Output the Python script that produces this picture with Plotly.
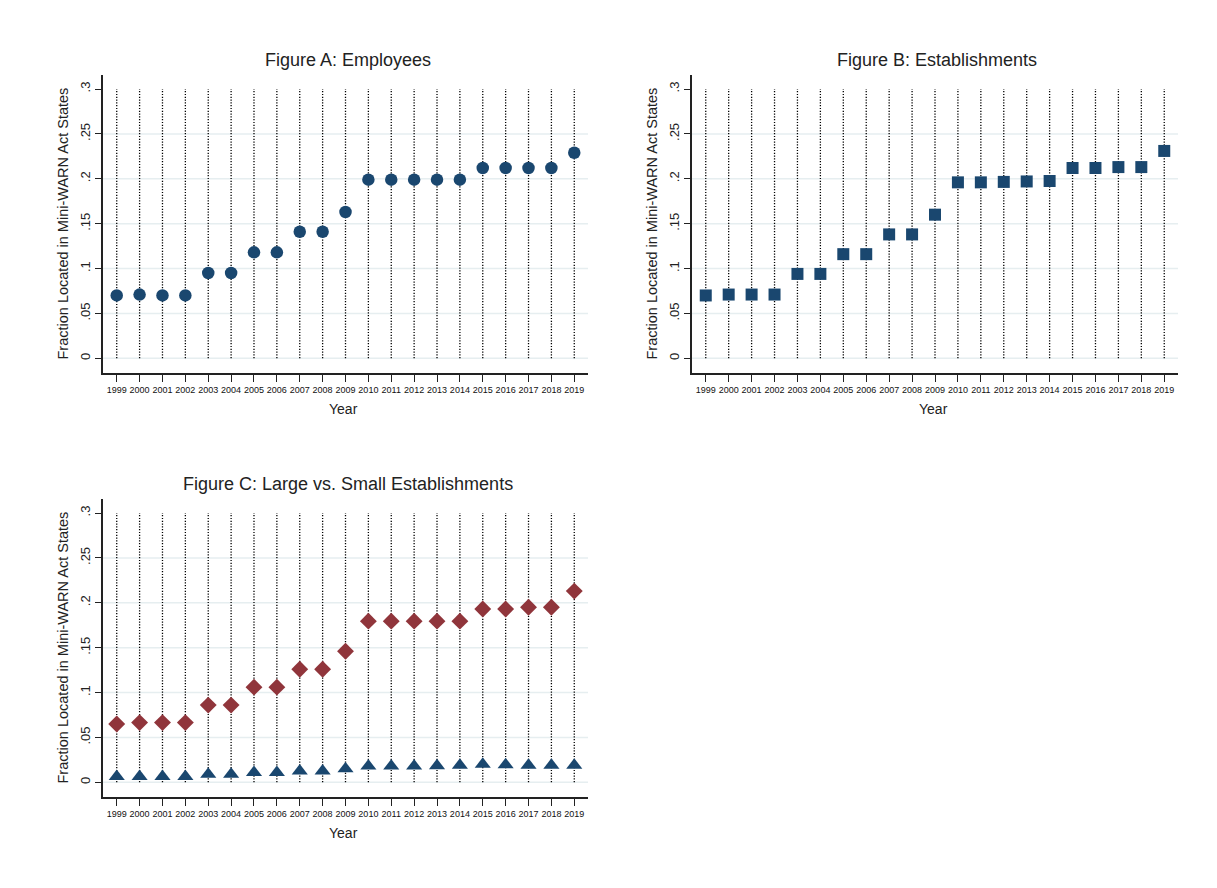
import plotly.graph_objects as go

# Years on the horizontal axis
years = list(range(1999, 2020))

# Fraction of employees located in mini-WARN Act states
employees = [0.070, 0.071, 0.070, 0.070, 0.095, 0.095, 0.118, 0.118, 0.141, 0.141,
             0.163, 0.199, 0.199, 0.199, 0.199, 0.199, 0.212, 0.212, 0.212, 0.212, 0.229]

# Fraction of establishments located in mini-WARN Act states
establishments = [0.070, 0.071, 0.071, 0.071, 0.094, 0.094, 0.116, 0.116, 0.138, 0.138,
                  0.160, 0.196, 0.196, 0.1965, 0.197, 0.1975, 0.212, 0.212, 0.213, 0.213, 0.231]

# Large vs. small establishments
small_estab = [0.0650, 0.0665, 0.0665, 0.0665, 0.086, 0.086, 0.106, 0.106, 0.126, 0.126,
               0.146, 0.1795, 0.1795, 0.1795, 0.1795, 0.1795, 0.193, 0.193, 0.195, 0.195, 0.213]
large_estab = [0.0065, 0.0065, 0.0065, 0.0065, 0.009, 0.009, 0.011, 0.011, 0.0125, 0.0125,
               0.015, 0.018, 0.018, 0.018, 0.0185, 0.019, 0.020, 0.0195, 0.019, 0.019, 0.019]

y_ticks = [0, 0.05, 0.1, 0.15, 0.2, 0.25, 0.3]
y_tick_text = ["0", ".05", ".1", ".15", ".2", ".25", ".3"]
grid_vals = [0, 0.05, 0.1, 0.15, 0.2, 0.25]

titles = ["Figure A: Employees", "Figure B: Establishments", "Figure C: Large vs. Small Establishments"]
y_title = "Fraction Located in Mini-WARN Act States"

NAVY = "#1a476f"
MAROON = "#90353b"
FONT = "Liberation Sans, Arial, sans-serif"

W, H = 1217, 888
# panel boxes in pixels: (left, right, top, bottom)
panels = [(103, 588, 75, 373), (692, 1178, 75, 373), (103, 588, 499, 797)]

fig = go.Figure()

axis_ids = ["", "2", "3"]

for i, (l, r, t, b) in enumerate(panels):
    ax = axis_ids[i]
    xref = "x" + ax
    yref = "y" + ax
    # dotted year lines from 0 to .3
    xs, ys = [], []
    for yr in years:
        xs += [yr, yr, None]
        ys += [0, 0.3, None]
    fig.add_trace(go.Scatter(x=xs, y=ys, mode="lines", xaxis=xref, yaxis=yref,
                             line=dict(color="#000000", width=1.3, dash="1.2px,1.6px"),
                             hoverinfo="skip", showlegend=False))
    # horizontal grid lines
    for gv in grid_vals:
        fig.add_shape(type="line", xref=xref + " domain", yref=yref, x0=0, x1=1, y0=gv, y1=gv,
                      line=dict(color="#e6eef0", width=1.5), layer="below")

    fig.layout["xaxis" + ax] = dict(
        domain=[l / W, r / W], range=[1998.4, 2019.6], anchor=yref,
        tickmode="array", tickvals=years, ticktext=[str(y) for y in years],
        ticks="outside", ticklen=7, tickwidth=1.2, tickcolor="#222",
        showline=True, linecolor="#222", linewidth=1.5, showgrid=False, zeroline=False,
        tickfont=dict(family=FONT, size=9, color="#111"),
    )
    fig.layout["yaxis" + ax] = dict(
        domain=[1 - b / H, 1 - t / H], range=[-0.0164, 0.3156], anchor=xref,
        tickmode="array", tickvals=y_ticks, ticktext=y_tick_text, tickangle=-90,
        ticks="outside", ticklen=6, tickwidth=1.2, tickcolor="#222",
        showline=True, linecolor="#222", linewidth=1.5, showgrid=False, zeroline=False,
        tickfont=dict(family=FONT, size=13, color="#222"),
    )
    cx = (l + r) / 2
    fig.add_annotation(text=titles[i], x=(cx + 2) / W, y=1 - (t - 15) / H, xref="paper", yref="paper",
                       showarrow=False, font=dict(family=FONT, size=18, color="#222"),
                       xanchor="center", yanchor="middle")
    fig.add_annotation(text=y_title, x=(l - 41) / W, y=1 - ((t + 14 + b - 15) / 2) / H,
                       xref="paper", yref="paper", showarrow=False, textangle=-90,
                       font=dict(family=FONT, size=14.5, color="#222"),
                       xanchor="center", yanchor="middle")
    fig.add_annotation(text="Year", x=(cx - 2) / W, y=1 - (b + 36) / H, xref="paper", yref="paper",
                       showarrow=False, font=dict(family=FONT, size=14, color="#222"),
                       xanchor="center", yanchor="middle")

fig.add_trace(go.Scatter(x=years, y=employees, mode="markers", xaxis="x", yaxis="y",
                         marker=dict(symbol="circle", size=12.5, color=NAVY), showlegend=False))
fig.add_trace(go.Scatter(x=years, y=establishments, mode="markers", xaxis="x2", yaxis="y2",
                         marker=dict(symbol="square", size=12, color=NAVY), showlegend=False))
fig.add_trace(go.Scatter(x=years, y=small_estab, mode="markers", xaxis="x3", yaxis="y3",
                         marker=dict(symbol="diamond", size=13, color=MAROON), showlegend=False))
fig.add_trace(go.Scatter(x=years, y=large_estab, mode="markers", xaxis="x3", yaxis="y3",
                         marker=dict(symbol="triangle-up", size=14, color=NAVY), showlegend=False))

fig.update_layout(width=W, height=H, margin=dict(l=0, r=0, t=0, b=0),
                  paper_bgcolor="white", plot_bgcolor="white", showlegend=False)

fig.write_html("out.html")
